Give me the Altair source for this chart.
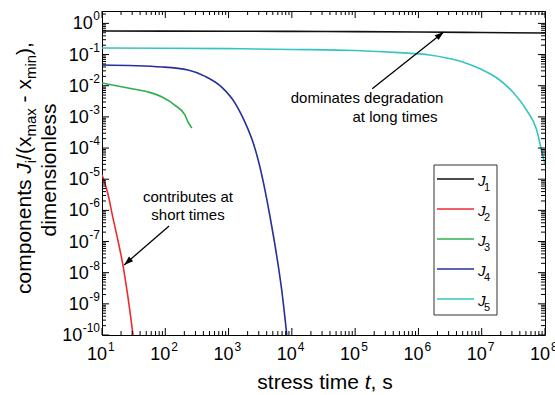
import math
import altair as alt
import pandas as pd

# ---------------------------------------------------------------------------
# Components J_i/(x_max - x_min) versus stress time t (s)
# ---------------------------------------------------------------------------
series_names = ["J1", "J2", "J3", "J4", "J5"]
series_colors = ["#111111", "#ee2a30", "#2bb04c", "#25309a", "#36c4bf"]

t_j1 = [1e1, 1e2, 1e3, 1e4, 1e5, 1e6, 1e7, 1e8]
j1 = [0.57, 0.565, 0.56, 0.555, 0.545, 0.53, 0.51, 0.49]

t_j2 = [10.0, 12.3, 14.8, 17.8, 21.4, 25.7, 30.9]
j2 = [1.4e-5, 3.6e-6, 6.1e-7, 1.12e-7, 1.76e-8, 1.66e-9, 1.0e-10]

t_j3 = [10.0, 25.7, 53.7, 89.1, 141, 204, 229, 263]
j3 = [1.22e-2, 8.4e-3, 6.3e-3, 4.35e-3, 2.4e-3, 1.15e-3, 6.8e-4, 4.4e-4]

t_j4 = [10.0, 89.1, 229, 427, 794, 1259, 1585, 1995, 2455, 2951, 3548, 4467, 5754, 6918, 8318]
j4 = [4.6e-2, 3.98e-2, 3.2e-2, 2.0e-2, 8.7e-3, 2.82e-3, 1.2e-3, 4.37e-4, 1.45e-4, 3.98e-5,
      7.9e-6, 7.1e-7, 3.55e-8, 2.75e-9, 1.0e-10]

t_j5 = [10, 1e2, 1e3, 1e4, 1e5, 5e5, 1.5e6, 2.8e6, 5e6, 1e7, 1.74e7, 3.1e7, 5.1e7,
        7.4e7, 9.3e7, 1e8]
j5 = [0.162, 0.160, 0.155, 0.146, 0.135, 0.115, 0.097, 0.078, 0.058, 0.033, 0.0177,
      6.3e-3, 1.66e-3, 3.8e-4, 5.2e-5, 3.0e-5]

# axis decades
x_exponents = [1, 2, 3, 4, 5, 6, 7, 8]
y_exponents = [-10, -9, -8, -7, -6, -5, -4, -3, -2, -1, 0]

# annotation arrows: (tail t, tail value, tip t, tip value)
arrow_long = (10 ** 5.27, 10 ** -2.10, 10 ** 6.40, 10 ** -0.275)
arrow_short = (10 ** 2.06, 10 ** -6.50, 10 ** 1.35, 10 ** -7.75)

# ---------------------------------------------------------------------------
W, H = 443, 324
T_MIN, T_MAX = 10, 1e8
V_MIN, V_MAX = 1e-10, 2.5
FONT = "Liberation Sans"

xs = alt.Scale(type="log", domain=[T_MIN, T_MAX], nice=False)
ys = alt.Scale(type="log", domain=[V_MIN, V_MAX], nice=False)

# Helvetica/Arial advance widths (per 1000 em) for laying out mixed-size text
ADV = {" ": 278, ",": 278, "-": 333, "/": 278, "(": 333, ")": 333, "0": 556, "1": 556,
       "2": 556, "3": 556, "4": 556, "5": 556, "6": 556, "7": 556, "8": 556, "9": 556,
       "J": 500, "a": 556, "b": 556, "c": 500, "d": 556, "e": 556, "g": 556, "h": 556,
       "i": 222, "l": 222, "m": 833, "n": 556, "o": 556, "p": 556, "r": 333, "s": 500,
       "t": 278, "u": 556, "x": 500}


def text_width(s, size):
    return sum(ADV.get(c, 556) for c in s) * size / 1000.0


one = pd.DataFrame({"k": [0]})


def label(text, x, y, size, align="left", baseline="alphabetic", angle=0, style="normal"):
    kw = dict(text=text, fontSize=size, align=align, baseline=baseline, font=FONT,
              color="black", fontStyle=style)
    if angle:
        kw["angle"] = angle
    return alt.Chart(one).mark_text(**kw).encode(x=alt.value(x), y=alt.value(y))


def runs(parts):
    """Split leading spaces off each run (SVG drops them) into an advance offset."""
    out = []
    for s, size, style, shift in parts:
        stripped = s.lstrip(" ")
        lead = text_width(s[: len(s) - len(stripped)], size)
        out.append((stripped, size, style, shift, lead, text_width(s, size)))
    return out


layers = []

# ---- curves ---------------------------------------------------------------
frames = []
for name, tt, vv in zip(series_names, [t_j1, t_j2, t_j3, t_j4, t_j5], [j1, j2, j3, j4, j5]):
    frames.append(pd.DataFrame({"series": name, "t": tt, "v": vv}))
curves = pd.concat(frames, ignore_index=True)

layers.append(
    alt.Chart(curves).mark_line(strokeWidth=1.6, interpolate="monotone", clip=True).encode(
        x=alt.X("t:Q", scale=xs, axis=None),
        y=alt.Y("v:Q", scale=ys, axis=None),
        color=alt.Color("series:N", scale=alt.Scale(domain=series_names, range=series_colors),
                        legend=None),
    )
)

# ---- inward ticks on all four sides ---------------------------------------
x_major = [10.0 ** k for k in x_exponents]
x_minor = [m * 10.0 ** k for k in x_exponents[:-1] for m in range(2, 10)]
y_major = [10.0 ** k for k in y_exponents]
y_minor = [m * 10.0 ** k for k in y_exponents for m in range(2, 10) if m * 10.0 ** k < V_MAX]

for vals, ln in ((x_major, 7), (x_minor, 4)):
    d = pd.DataFrame({"t": vals})
    layers.append(alt.Chart(d).mark_rule(color="black", strokeWidth=1).encode(
        x=alt.X("t:Q", scale=xs, axis=None), y=alt.value(H), y2=alt.value(H - ln)))
    layers.append(alt.Chart(d).mark_rule(color="black", strokeWidth=1).encode(
        x=alt.X("t:Q", scale=xs, axis=None), y=alt.value(0), y2=alt.value(ln)))
for vals, ln in ((y_major, 7), (y_minor, 4)):
    d = pd.DataFrame({"v": vals})
    layers.append(alt.Chart(d).mark_rule(color="black", strokeWidth=1).encode(
        y=alt.Y("v:Q", scale=ys, axis=None), x=alt.value(0), x2=alt.value(ln)))
    layers.append(alt.Chart(d).mark_rule(color="black", strokeWidth=1).encode(
        y=alt.Y("v:Q", scale=ys, axis=None), x=alt.value(W), x2=alt.value(W - ln)))

# ---- tick labels (10 with superscript exponent) ----------------------------
xl = pd.DataFrame({"t": x_major, "e": [str(k) for k in x_exponents]})
layers.append(alt.Chart(xl).mark_text(text="10", align="right", baseline="middle", dx=5,
                                      fontSize=18, font=FONT, color="black").encode(
    x=alt.X("t:Q", scale=xs, axis=None), y=alt.value(344)))
layers.append(alt.Chart(xl).mark_text(align="left", baseline="middle", dx=6,
                                      fontSize=12, font=FONT, color="black").encode(
    x=alt.X("t:Q", scale=xs, axis=None), y=alt.value(336), text="e:N"))

yl = pd.DataFrame({"v": y_major, "e": [str(k) for k in y_exponents]})
yl["w"] = yl["e"].map(lambda s: round(text_width(s, 12), 1))
for w, grp in yl.groupby("w"):
    layers.append(alt.Chart(grp).mark_text(text="10", align="right", baseline="middle", dy=1,
                                           fontSize=18, font=FONT, color="black").encode(
        y=alt.Y("v:Q", scale=ys, axis=None), x=alt.value(-2.5 - w)))
    layers.append(alt.Chart(grp).mark_text(align="right", baseline="middle", dy=-7,
                                           fontSize=12, font=FONT, color="black").encode(
        y=alt.Y("v:Q", scale=ys, axis=None), x=alt.value(-2), text="e:N"))

# ---- axis titles -------------------------------------------------------------
TS, SS = 21, 15
xt_parts = runs([("stress time ", TS, "normal", 0), ("t", TS, "italic", 0),
                 (", s", TS, "normal", 0)])
xt_total = sum(r[5] for r in xt_parts)
cx = 223 - xt_total / 2
for s, sz, st, _, lead, adv in xt_parts:
    layers.append(label(s, cx + lead, 378, sz, style=st))
    cx += adv

yt_parts = runs([("components ", TS, "normal", 0), ("J", TS, "italic", 0),
                 ("i", SS, "normal", 5), ("/(x", TS, "normal", 0), ("max", SS, "normal", 5),
                 (" - x", TS, "normal", 0), ("min", SS, "normal", 5), ("),", TS, "normal", 0)])
yt_total = sum(r[5] for r in yt_parts)
cy = 157 + yt_total / 2
for s, sz, st, shift, lead, adv in yt_parts:
    layers.append(label(s, -71 + shift, cy - lead, sz, angle=270, style=st))
    cy -= adv
layers.append(label("dimensionless", -46, 159, TS, align="center", angle=270))

# ---- annotations -------------------------------------------------------------
layers.append(label("dominates degradation", 265, 92, 15, align="center"))
layers.append(label("at long times", 293, 111, 15, align="center"))
layers.append(label("contributes at", 86, 191, 15, align="center"))
layers.append(label("short times", 86, 209, 15, align="center"))

px_per_dec_x = W / (math.log10(T_MAX) - math.log10(T_MIN))
px_per_dec_y = H / (math.log10(V_MAX) - math.log10(V_MIN))
HEAD = "M0,0L-0.34,1L0.34,1Z"
for t0, v0, t1, v1 in (arrow_long, arrow_short):
    d = pd.DataFrame({"t0": [t0], "v0": [v0], "t1": [t1], "v1": [v1]})
    layers.append(alt.Chart(d).mark_rule(color="black", strokeWidth=1.3).encode(
        x=alt.X("t0:Q", scale=xs, axis=None), y=alt.Y("v0:Q", scale=ys, axis=None),
        x2="t1:Q", y2="v1:Q"))
    ddx = (math.log10(t1) - math.log10(t0)) * px_per_dec_x
    ddy = -(math.log10(v1) - math.log10(v0)) * px_per_dec_y
    ang = math.degrees(math.atan2(ddx, -ddy)) % 360
    layers.append(alt.Chart(d).mark_point(shape=HEAD, size=330, filled=True, color="black",
                                          opacity=1, angle=ang).encode(
        x=alt.X("t1:Q", scale=xs, axis=None), y=alt.Y("v1:Q", scale=ys, axis=None)))

# ---- legend --------------------------------------------------------------------
layers.append(alt.Chart(one).mark_rect(fill="white", stroke="#333333", strokeWidth=1).encode(
    x=alt.value(332), x2=alt.value(395), y=alt.value(154), y2=alt.value(304)))
for i, (name, col) in enumerate(zip(series_names, series_colors)):
    ly = 168 + 30 * i
    layers.append(alt.Chart(one).mark_rule(color=col, strokeWidth=1.6).encode(
        x=alt.value(335), x2=alt.value(372), y=alt.value(ly)))
    layers.append(label("J", 376, ly + 7, 15, style="italic"))
    layers.append(label(name[1:], 382, ly + 12, 11))

chart = alt.layer(*layers).properties(
    width=W, height=H,
    padding={"left": 102, "top": 11, "right": 10, "bottom": 60},
    autosize=alt.AutoSizeParams(type="none"),
    background="white",
).configure_view(stroke="black", strokeWidth=1)

chart.save("out.html", embed_options={"renderer": "svg", "actions": False})
